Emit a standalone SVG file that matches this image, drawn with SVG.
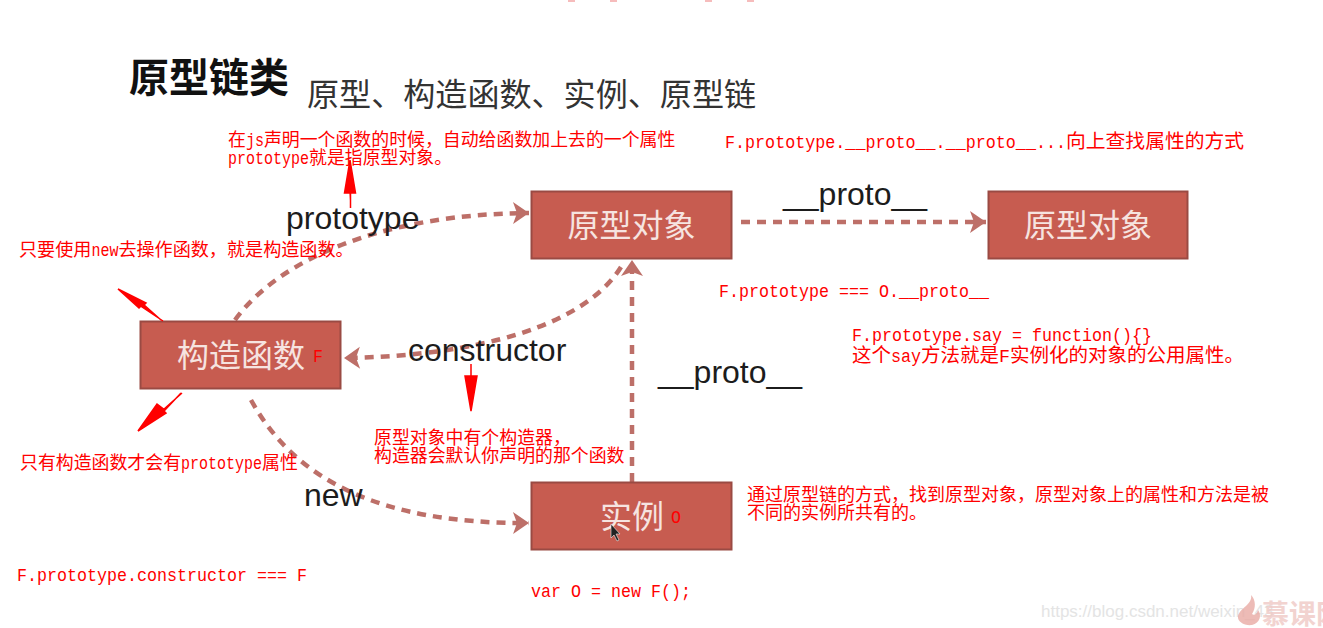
<svg xmlns="http://www.w3.org/2000/svg" width="1323" height="628" viewBox="0 0 1323 628">
<style>
text{font-family:"Noto Sans CJK SC","Liberation Sans",sans-serif}
.r{fill:#f00;font-size:17.9px}
.m{font-family:"Liberation Mono","Noto Sans CJK SC",monospace;font-size:19px}
.box{fill:#c75c50;stroke:#9a4a43;stroke-width:2}
.nt{fill:#f6e4e0;font-size:32px;text-anchor:middle}
.lb{font-family:"Liberation Sans",sans-serif;font-size:32px;fill:#1c1c1c}
.c{fill:none;stroke:#bd6f68;stroke-width:4.5;stroke-dasharray:9 7}
.ra{fill:#f00;stroke:#f00;stroke-width:1.5}
</style>
<defs>
<marker id="ah" markerUnits="userSpaceOnUse" markerWidth="20" markerHeight="24" refX="18" refY="12" orient="auto"><path d="M2 1 L18 12 L2 23 L6 12Z" fill="#bd6f68"/></marker>
</defs>
<rect width="1323" height="628" fill="#fff"/>
<g id="top-marks" fill="#f6bcbc"><rect x="568" y="0" width="7" height="2"/><rect x="610" y="0" width="7" height="2"/><rect x="705" y="0" width="7" height="2"/><rect x="747" y="0" width="7" height="2"/></g>
<g id="titles">
<text x="129" y="92" font-size="40" font-weight="700" fill="#111">原型链类</text>
<text x="307" y="106" font-size="32.100" fill="#333">原型、构造函数、实例、原型链</text>
</g>
<g id="connectors">
<path class="c" marker-end="url(#ah)" d="M235 320C280 258 385 214 529 213"/>
<path class="c" marker-end="url(#ah)" d="M741 222H986"/>
<path class="c" marker-end="url(#ah)" d="M621 267C585 325 480 356 344 358"/>
<path class="c" marker-end="url(#ah)" d="M632 482V260"/>
<path class="c" marker-end="url(#ah)" d="M251 400C295 480 380 524 529 523"/>
</g>
<g id="node-proto1"><rect class="box" x="531.500" y="191.500" width="200" height="67"/><text class="nt" x="631.500" y="237">原型对象</text></g>
<g id="node-proto2"><rect class="box" x="988.500" y="191.500" width="199" height="67"/><text class="nt" x="1088" y="237">原型对象</text></g>
<g id="node-ctor"><rect class="box" x="140.500" y="321.500" width="200" height="67"/><text class="nt" x="241" y="367">构造函数</text><text class="r m" x="313" y="362" textLength="10" lengthAdjust="spacingAndGlyphs">F</text></g>
<g id="node-inst"><rect class="box" x="531.500" y="482.500" width="200" height="67"/><text class="nt" x="632" y="528">实例</text><text class="r m" x="671" y="523" textLength="10" lengthAdjust="spacingAndGlyphs">O</text><path d="M611 524l0 14 3-3 3 6 2-1-3-6 4 0z" fill="#222" stroke="#eee" stroke-width=".6"/></g>
<g id="labels">
<text class="lb" x="286" y="229">prototype</text>
<text class="lb" x="783" y="205">__proto__</text>
<text class="lb" x="408" y="361">constructor</text>
<text class="lb" x="658" y="383">__proto__</text>
<text class="lb" x="304" y="506">new</text>
</g>
<g id="notes">
<text class="r" x="228" y="146">在<tspan class="m" textLength="18" lengthAdjust="spacingAndGlyphs">js</tspan>声明一个函数的时候，自动给函数加上去的一个属性</text>
<text class="r" x="228" y="164"><tspan class="m" textLength="81" lengthAdjust="spacingAndGlyphs">prototype</tspan>就是指原型对象。</text>
<text class="r" x="19" y="256" style="font-size:18.100px">只要使用<tspan class="m" textLength="27" lengthAdjust="spacingAndGlyphs">new</tspan>去操作函数，就是构造函数。</text>
<text class="r" x="20" y="469">只有构造函数才会有<tspan class="m" textLength="81" lengthAdjust="spacingAndGlyphs">prototype</tspan>属性</text>
<text class="r" x="374" y="444">原型对象中有个构造器，</text>
<text class="r" x="374" y="462">构造器会默认你声明的那个函数</text>
<text class="r m" x="17" y="581" textLength="290" lengthAdjust="spacingAndGlyphs">F.prototype.constructor === F</text>
<text class="r m" x="531" y="597" textLength="160" lengthAdjust="spacingAndGlyphs">var O = new F();</text>
<text class="r" x="725" y="148"><tspan class="m" textLength="341" lengthAdjust="spacingAndGlyphs">F.prototype.__proto__.__proto__...</tspan><tspan style="font-size:19.800px">向上查找属性的方式</tspan></text>
<text class="r m" x="719" y="297" textLength="270" lengthAdjust="spacingAndGlyphs">F.prototype === O.__proto__</text>
<text class="r m" x="852" y="341" textLength="300" lengthAdjust="spacingAndGlyphs">F.prototype.say = function(){}</text>
<text class="r" x="852" y="362" style="font-size:19.500px">这个<tspan class="m" textLength="30" lengthAdjust="spacingAndGlyphs">say</tspan>方法就是<tspan class="m" textLength="11" lengthAdjust="spacingAndGlyphs">F</tspan>实例化的对象的公用属性。</text>
<text class="r" x="747" y="501" style="font-size:18px">通过原型链的方式，找到原型对象，原型对象上的属性和方法是被</text>
<text class="r" x="747" y="519" style="font-size:18px">不同的实例所共有的。</text>
</g>
<g id="red-arrows">
<path class="ra" d="M350.500 208V193h-6L350 160l5.500 33h-6"/>
<path class="ra" d="M161 320L143 304l-4 4L118 289l28 14-4 4 21 14"/>
<path class="ra" d="M471 364V376h-6L471 411l6-35h-6"/>
<path class="ra" d="M181 393L165 410l-8-6L138 431l28-18-3-3 19-17"/>
</g>
<g id="watermark">
<text x="1041" y="617" style="font-family:'Liberation Sans',sans-serif" font-size="17" fill="#e4e4e4">https://blog.csdn.net/weixin_43</text>
<path d="M1251 595C1253 604 1240 608 1238 616C1237 622 1245 626 1252 625C1260 623 1262 615 1258 610C1257 614 1254 616 1252 614C1256 608 1256 600 1251 595Z" fill="#e8aaa4" opacity=".8"/>
<text x="1262" y="624" font-size="27" font-weight="700" fill="#efc9c5" opacity=".8">慕课网</text>
</g>
</svg>
